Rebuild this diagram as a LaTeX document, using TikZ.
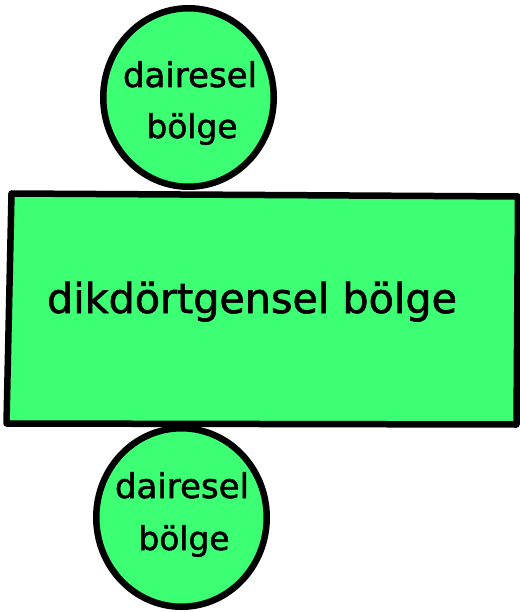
\documentclass[tikz,border=0pt]{standalone}
\usepackage{fontspec}
\setmainfont{DejaVu Sans}
\newfontfamily\lblfont[FakeBold=1.6]{DejaVu Sans}
\usetikzlibrary{shapes.geometric}
\definecolor{wavegreen}{RGB}{60,255,115}
\tikzset{
  blob/.style={ellipse, draw=black, fill=wavegreen, line width=6.5pt, minimum width=170.5pt, minimum height=178.5pt, inner sep=0pt},
  plate/.style={draw=black, fill=wavegreen, line width=6.5pt, line join=round},
  lbl/.style={anchor=base, inner sep=0pt, text=black, font=\lblfont}
}
\begin{document}
\begin{tikzpicture}[x=1pt,y=-1pt]
\useasboundingbox (0,0) rectangle (519,612);
\node[blob] (topc) at (188.5,97.5) {};
\node[blob] (botc) at (181.5,517.5) {};
\coordinate (r1) at (11.5,193.5);
\coordinate (r2) at (518,196.5);
\coordinate (r3) at (516.5,424.5);
\coordinate (r4) at (6.5,423.5);
\draw[plate] (r1) -- (r2) -- (r3) -- (r4) -- cycle;
\node[lbl] (big) at (252,313) {\resizebox{410pt}{!}{dikdörtgensel bölge}};
\node[lbl] (t1) at (190,87) {\resizebox{134pt}{!}{dairesel}};
\node[lbl] (t2) at (192,138) {\resizebox{91pt}{!}{bölge}};
\node[lbl] (b1) at (182,498) {\resizebox{134pt}{!}{dairesel}};
\node[lbl] (b2) at (184,550) {\resizebox{91pt}{!}{bölge}};
\end{tikzpicture}
\end{document}
